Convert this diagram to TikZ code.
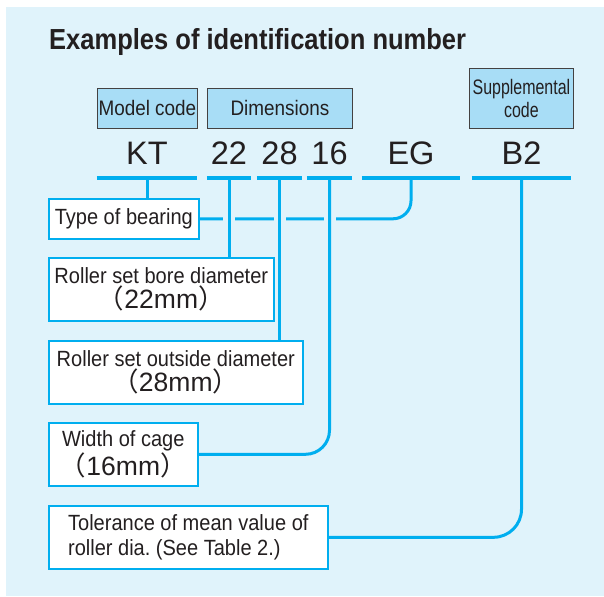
\documentclass[tikz,border=0pt]{standalone}
\usepackage{fontspec}
\setmainfont{Liberation Sans}
\newfontfamily\condfont[FakeStretch=0.91]{Liberation Sans}
\newfontfamily\headfont[FakeStretch=0.9]{Liberation Sans}
\newfontfamily\narrowfont[FakeStretch=0.76]{Liberation Sans}
\newfontfamily\titlefont[FakeStretch=0.88]{Liberation Sans}
\newfontfamily\cjk{Noto Sans CJK JP}
\usetikzlibrary{positioning,calc}
\definecolor{bgblue}{HTML}{E0F3FB}
\definecolor{headblue}{HTML}{A8DDF6}
\definecolor{linecyan}{HTML}{00AEEF}
\definecolor{ink}{HTML}{231F20}
\newcommand{\mmtext}[1]{{\fontsize{26.5}{26}\selectfont\cjk（\rmfamily #1\cjk）}}
\frenchspacing

\begin{document}
\begin{tikzpicture}[x=1pt, y=-1pt,
    head/.style={draw=ink!85, line width=0.8pt, fill=headblue, anchor=north west, inner sep=0pt, align=center, text=ink, font=\headfont\fontsize{21}{23}\selectfont},
    code/.style={anchor=south, inner xsep=0pt, inner ysep=0pt, text height=24pt, text depth=13pt, text=ink, font=\fontsize{32.5}{36}\selectfont},
    label/.style={draw=linecyan, line width=1.6pt, fill=white, anchor=north west, inner sep=0pt, align=center, text=ink, font=\condfont\fontsize{22}{25.6}\selectfont},
    uline/.style={draw=linecyan, line width=3.5pt},
    conn/.style={draw=linecyan, line width=3pt},
    gap/.style={draw=bgblue, line width=5pt}
  ]
    \fill[white] (0,0) rectangle (604,596);
    \fill[bgblue] (6,7) rectangle (604,596);
    \useasboundingbox (0,0) rectangle (604,596);

    % title
    \node[anchor=base west, inner sep=0pt, text=ink, font=\titlefont\bfseries\fontsize{29}{32}\selectfont] (title) at (49,50) {Examples of identification number};

    % headings
    \node[head, minimum width=100pt, minimum height=40pt] (model) at (97,88) {Model code};
    \node[head, minimum width=145pt, minimum height=40pt] (dims) at (207,88) {Dimensions};
    \node[head, minimum width=104pt, minimum height=60pt, font=\narrowfont\fontsize{21}{23}\selectfont] (suppl) at (469,68) {Supplemental\\code};

    % identification number
    \node[code, minimum width=100pt] (kt) at (147,178) {KT};
    \node[code, minimum width=44pt] (d22) at (229,178) {22};
    \node[code, minimum width=45pt] (d28) at (279.5,178) {28};
    \node[code, minimum width=45pt] (d16) at (329.5,178) {16};
    \node[code, minimum width=98pt] (eg) at (411,178) {EG};
    \node[code, minimum width=99pt] (b2) at (521.5,178) {B2};

    % explanations
    \node[label, minimum width=150pt, minimum height=40pt] (type) at (48,198) {Type of bearing};
    \node[label, minimum width=225pt, minimum height=63pt] (bore) at (48,257) {Roller set bore diameter\\\mmtext{22mm}};
    \node[label, minimum width=254pt, minimum height=63pt] (outer) at (48,340) {Roller set outside diameter\\\mmtext{28mm}};
    \node[label, minimum width=149pt, minimum height=63pt] (cage) at (48,422) {Width of cage\\\mmtext{16mm}};
    \node[label, minimum width=279pt, minimum height=63pt, align=left] (tol) at (48,505) {Tolerance of mean value of\\roller dia. (See Table 2.)};

    % connectors
    \draw[conn, rounded corners=18pt] (eg.south) |- (type.east);
    \foreach \c in {d22,d28,d16}
      \draw[gap] ($(\c.south |- type.east)+(-6,0)$) -- ($(\c.south |- type.east)+(6,0)$);
    \draw[conn] (kt.south) -- (kt.south |- type.north);
    \draw[conn] (d22.south) -- (d22.south |- bore.north);
    \draw[conn] (d28.south) -- (d28.south |- outer.north);
    \draw[conn, rounded corners=24pt] (d16.south) |- (cage.east);
    \draw[conn, rounded corners=28pt] (b2.south) |- (tol.east);

    \foreach \c in {kt,d22,d28,d16,eg,b2}
      \draw[uline] (\c.south west) -- (\c.south east);
  \end{tikzpicture}
\end{document}
